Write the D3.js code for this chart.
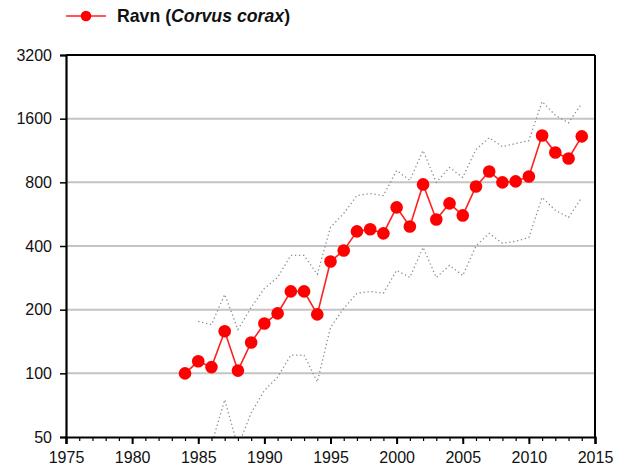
<!DOCTYPE html>
<html>
<head>
<meta charset="utf-8">
<script src="https://cdn.jsdelivr.net/npm/d3@7"></script>
<style>
  html, body { margin: 0; padding: 0; background: #fff; }
  svg { display: block; font-family: "Liberation Sans", Arial, sans-serif; }
</style>
</head>
<body>
<svg id="chart" width="626" height="473"></svg>
<script>
const years = d3.range(1984, 2015);
const index = [100, 114, 107, 158, 103, 140, 172, 192, 244, 244, 190, 338, 381, 469, 480, 459,
  609, 495, 782, 534, 636, 558, 765, 900, 800, 808, 853, 1333, 1107, 1037, 1320];
const upper = [null, 176, 170, 236, 161, 205, 252, 284, 361, 361, 294, 490, 570, 693, 708, 693,
  910, 818, 1130, 800, 940, 844, 1144, 1300, 1180, 1220, 1260, 1930, 1660, 1530, 1890];
const lower = [null, 35, 46, 75, 45, 65, 83, 96, 122, 122, 91, 165, 203, 239, 244, 239,
  307, 284, 394, 284, 324, 290, 400, 459, 412, 421, 439, 679, 590, 546, 679];
const yTicks = [50, 100, 200, 400, 800, 1600, 3200];
const xTicks = [1975, 1980, 1985, 1990, 1995, 2000, 2005, 2010, 2015];
const seriesName = "Ravn";
const latinName = "Corvus corax";

const svg = d3.select("#chart");
const L = 66, R = 595, T = 55, B = 437;
const x = d3.scaleLinear().domain([1975, 2015]).range([L, R]);
const y = d3.scaleLog().base(2).domain([50, 3200]).range([B, T]);

svg.append("defs").append("clipPath").attr("id", "plotclip")
  .append("rect").attr("x", L).attr("y", T).attr("width", R - L).attr("height", B - T);

// gridlines
svg.append("g").selectAll("line").data(yTicks.filter(v => v > 50 && v < 3200)).join("line")
  .attr("x1", L).attr("x2", R).attr("y1", d => y(d)).attr("y2", d => y(d))
  .attr("stroke", "#c4c4c4").attr("stroke-width", 2);

// CI lines
const ciLine = d3.line().defined(d => d[1] != null).x(d => x(d[0])).y(d => y(d[1]));
const gci = svg.append("g").attr("clip-path", "url(#plotclip)");
[upper, lower].forEach(arr => {
  gci.append("path").datum(years.map((yr, i) => [yr, arr[i]]))
    .attr("d", ciLine).attr("fill", "none").attr("stroke", "#8c8c8c")
    .attr("stroke-width", 1.3).attr("stroke-dasharray", "1.3,2.7");
});

// main series
const mainLine = d3.line().x(d => x(d[0])).y(d => y(d[1]));
const data = years.map((yr, i) => [yr, index[i]]);
svg.append("path").datum(data).attr("d", mainLine)
  .attr("fill", "none").attr("stroke", "#ff2020").attr("stroke-width", 1.6);
svg.append("g").selectAll("circle").data(data).join("circle")
  .attr("cx", d => x(d[0])).attr("cy", d => y(d[1])).attr("r", 6.3)
  .attr("fill", "#ff0000");

// frame top/right
svg.append("line").attr("x1", L).attr("x2", R).attr("y1", T).attr("y2", T)
  .attr("stroke", "#000").attr("stroke-width", 2);
svg.append("line").attr("x1", R).attr("x2", R).attr("y1", T).attr("y2", B)
  .attr("stroke", "#000").attr("stroke-width", 2);

// y axis
const yAxis = d3.axisLeft(y).tickValues(yTicks).tickFormat(d3.format("d")).tickSize(6).tickPadding(8);
const gy = svg.append("g").attr("transform", `translate(${L},0)`).call(yAxis);
gy.select(".domain").attr("stroke-width", 2.2);
gy.selectAll(".tick line").attr("stroke-width", 1.5);
gy.selectAll("text").attr("font-size", 16).attr("fill", "#111");

// x axis minor
const gxm = svg.append("g").attr("transform", `translate(0,${B})`)
  .call(d3.axisBottom(x).tickValues(d3.range(1975, 2016)).tickSize(4).tickFormat(""));
gxm.select(".domain").remove();
gxm.selectAll(".tick line").attr("stroke-width", 1.2);
// x axis major
const gx = svg.append("g").attr("transform", `translate(0,${B})`)
  .call(d3.axisBottom(x).tickValues(xTicks).tickFormat(d3.format("d")).tickSize(7).tickPadding(8));
gx.select(".domain").attr("stroke-width", 2.2);
gx.selectAll(".tick line").attr("stroke-width", 2);
gx.selectAll("text").attr("font-size", 16).attr("fill", "#111");

// legend
const lg = svg.append("g");
lg.append("line").attr("x1", 66).attr("x2", 106).attr("y1", 16).attr("y2", 16)
  .attr("stroke", "#ff2020").attr("stroke-width", 1.6);
lg.append("circle").attr("cx", 86).attr("cy", 16).attr("r", 5.3).attr("fill", "#ff0000");
const t = lg.append("text").attr("x", 117).attr("y", 22)
  .attr("font-size", 17.7).attr("font-weight", "bold").attr("fill", "#111");
t.append("tspan").text(seriesName + " (");
t.append("tspan").attr("font-style", "italic").text(latinName);
t.append("tspan").text(")");
</script>
</body>
</html>
